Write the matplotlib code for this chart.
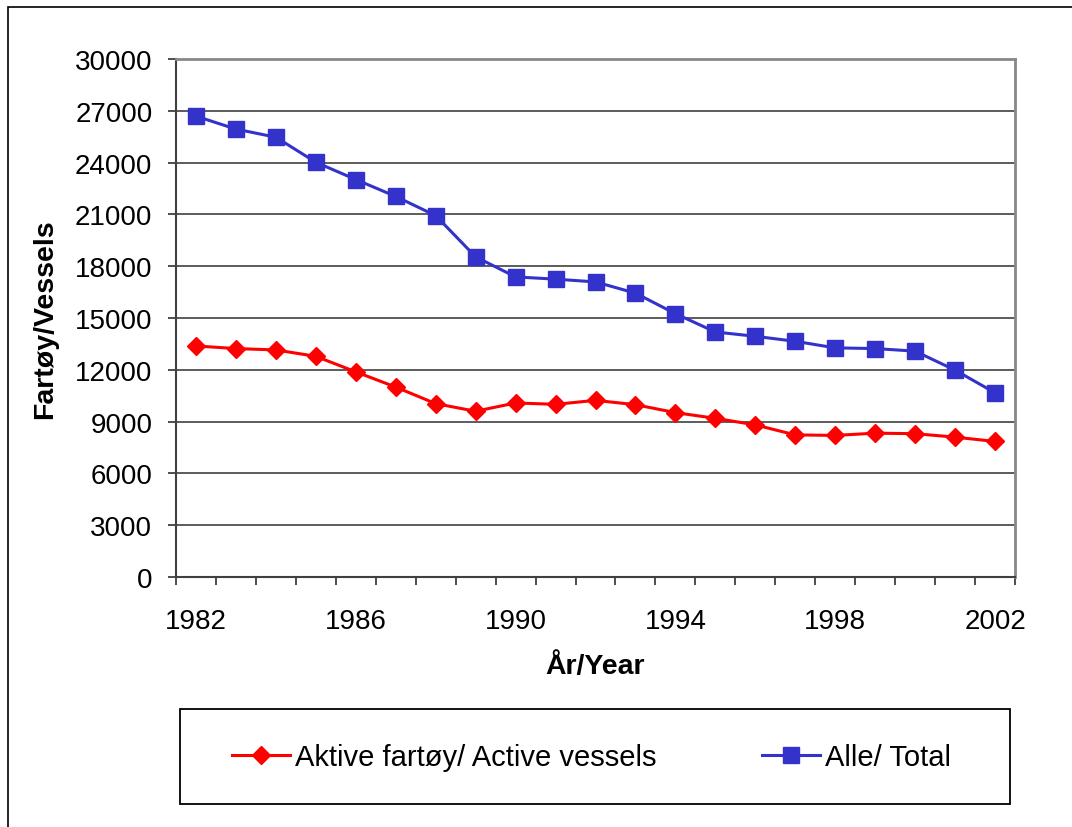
import matplotlib
matplotlib.use("Agg")
import matplotlib.pyplot as plt
from matplotlib.patches import Rectangle
from matplotlib.lines import Line2D
from matplotlib.ticker import FixedLocator, NullFormatter

plt.rcParams['font.family'] = ['Liberation Sans', 'DejaVu Sans']

years = list(range(1982, 2003))
active = [13380, 13230, 13150, 12780, 11880, 11000, 10040, 9600, 10080, 10000, 10230,
          9980, 9520, 9190, 8810, 8230, 8200, 8330, 8300, 8100, 7850]
total = [26690, 25940, 25470, 24020, 23020, 22040, 20930, 18540, 17380, 17250, 17090,
         16440, 15250, 14190, 13940, 13650, 13270, 13230, 13080, 11980, 10670]
yticks = list(range(0, 30001, 3000))
xlabels_shown = [1982, 1986, 1990, 1994, 1998, 2002]
label_active = "Aktive fartøy/ Active vessels"
label_total = "Alle/ Total"
xlabel = "År/Year"
ylabel = "Fartøy/Vessels"

W, H = 1072, 828
fig = plt.figure(figsize=(W / 100, H / 100), dpi=100)
fig.patch.set_facecolor('white')

# outer frame (top & left visible)
fig.add_artist(Rectangle((8 / W, -0.1), 1.2, (1 - 8 / H) + 0.1, transform=fig.transFigure,
                         fill=False, edgecolor='black', linewidth=1.2))

L, R, T, B = 176, 1015, 60, 578
ax = fig.add_axes([L / W, 1 - B / H, (R - L) / W, (B - T) / H])

xs = list(range(len(years)))
ax.plot(xs, total, color='#3333CC', linewidth=2.2, marker='s', markersize=11,
        markeredgecolor='#3333CC', zorder=3)
ax.plot(xs, active, color='#FF0000', linewidth=2.2, marker='D', markersize=8.8,
        markeredgecolor='#FF0000', zorder=3)

ax.set_xlim(-0.5, len(years) - 0.5)
ax.set_ylim(0, 30000)
ax.set_yticks(yticks)
ax.set_yticklabels([str(v) for v in yticks])
ax.yaxis.grid(True, color='#303030', linewidth=1.1)
ax.set_axisbelow(True)

shown_pos = [years.index(y) for y in xlabels_shown]
ax.set_xticks(shown_pos)
ax.set_xticklabels([str(y) for y in xlabels_shown])
ax.xaxis.set_minor_locator(FixedLocator([i - 0.5 for i in range(len(years) + 1)]))
ax.xaxis.set_minor_formatter(NullFormatter())
ax.tick_params(axis='x', which='major', length=0, pad=22, labelsize=20)
ax.tick_params(axis='x', which='minor', length=6, width=1.2, direction='out', color='#303030')
ax.tick_params(axis='y', which='major', length=6, width=1.2, direction='out', color='#303030',
               pad=11, labelsize=20)

for s in ['top', 'right']:
    ax.spines[s].set_color('#888888')
    ax.spines[s].set_linewidth(2)
for s in ['left', 'bottom']:
    ax.spines[s].set_color('#404040')
    ax.spines[s].set_linewidth(1.5)

fig.text(45 / W, 1 - 319 / H, ylabel, rotation=90, ha='center', va='center',
         fontsize=20.5, fontweight='bold')
fig.text(595 / W, 1 - 667 / H, xlabel, ha='center', va='center',
         fontsize=20.5, fontweight='bold')

# legend box
fig.add_artist(Rectangle((180 / W, 1 - 805 / H), 830 / W, 95 / H, transform=fig.transFigure,
                         fill=False, edgecolor='black', linewidth=1.3))
handles = [Line2D([], [], color='#FF0000', linewidth=2.2, marker='D', markersize=8.8),
           Line2D([], [], color='#3333CC', linewidth=2.2, marker='s', markersize=11)]
fig.legend(handles, [label_active, label_total], loc='center left',
           bbox_to_anchor=(232 / W, 1 - 758 / H), ncol=2, frameon=False, fontsize=21,
           handlelength=2.0, handletextpad=0.17, columnspacing=3.6, borderpad=0,
           borderaxespad=0)

fig.savefig('out.png', dpi=100, facecolor='white')
